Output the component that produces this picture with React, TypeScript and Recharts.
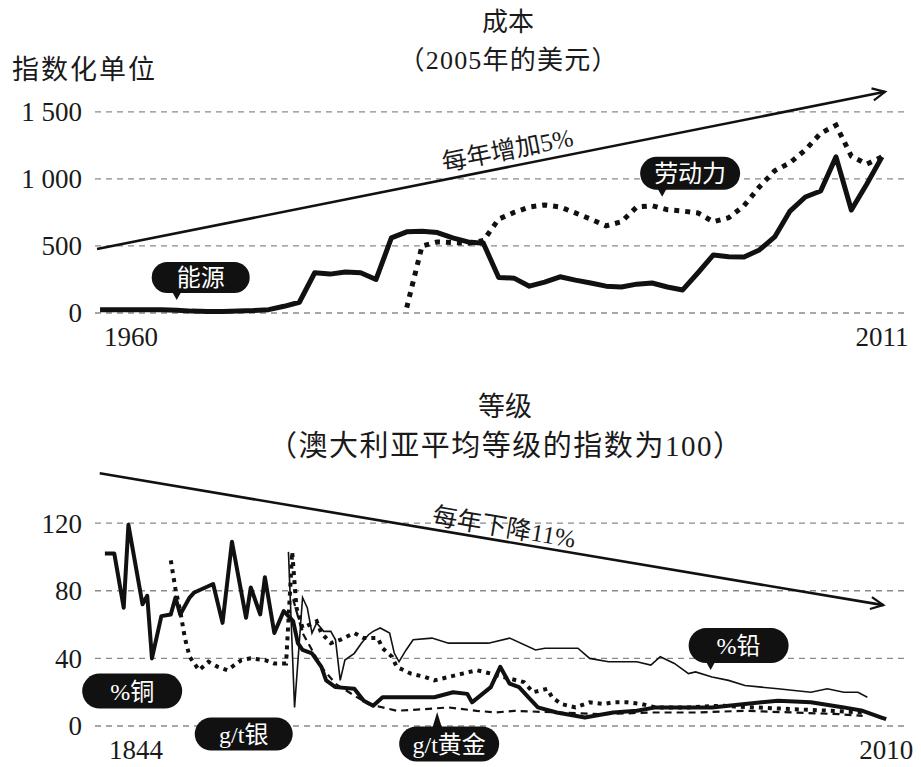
import React from 'react';
import { LineChart, Line, XAxis, YAxis, CartesianGrid, ReferenceLine, ReferenceDot } from 'recharts';

const FONT = "'Liberation Serif', 'Noto Sans CJK SC', serif";
const INK = '#1a1a1a';

// ---------- Top chart: cost (2005 US$), indexed units ----------
const costYears = [
  1960, 1961, 1962, 1963, 1964, 1965, 1966, 1967, 1968, 1969,
  1970, 1971, 1972, 1973, 1974, 1975, 1976, 1977, 1978, 1979,
  1980, 1981, 1982, 1983, 1984, 1985, 1986, 1987, 1988, 1989,
  1990, 1991, 1992, 1993, 1994, 1995, 1996, 1997, 1998, 1999,
  2000, 2001, 2002, 2003, 2004, 2005, 2006, 2007, 2008, 2009,
  2010, 2011,
];
const energyCost = [
  25, 25, 25, 25, 25, 20, 14, 12, 12, 14,
  18, 25, 50, 80, 300, 290, 305, 300, 250, 560,
  605, 610, 600, 560, 530, 520, 265, 260, 200, 230,
  270, 245, 224, 200, 194, 215, 224, 194, 172, 300,
  433, 420, 418, 470, 567, 760, 865, 910, 1164, 768,
  960, 1164,
];
const laborCost = [
  null, null, null, null, null, null, null, null, null, null,
  null, null, null, null, null, null, null, null, null, null,
  40, 500, 530, 525, 520, 540, 700, 750, 790, 806,
  791, 746, 700, 650, 680, 790, 800, 770, 760, 746,
  680, 710, 800, 940, 1060, 1120, 1216, 1340, 1400, 1170,
  1110, 1164,
];
const costTicksY = [0, 500, 1000, 1500];
const costTicksX = [1960, 2011];
const costTrend = [{ x: 1959.8, y: 477 }, { x: 2011.2, y: 1649 }];
const costTrendLabel = '每年增加5%';
const costTitle = '成本';
const costSubtitle = '（2005年的美元）';
const costUnit = '指数化单位';
const costNotes = [
  { text: '能源', x: 1965, y: 97, dx: 24, dy: -22.5, w: 98, h: 31, pointer: 'down' },
  { text: '劳动力', x: 1996.66, y: 866, dx: 28, dy: -23.5, w: 100, h: 33, pointer: 'down' },
];

// ---------- Bottom chart: ore grades (Australian average grade index = 100) ----------
const copperYears = [
  1844, 1846, 1848, 1849, 1852, 1853, 1854, 1856, 1858, 1859,
  1860, 1862, 1863, 1867, 1869, 1871, 1874, 1875, 1877, 1878,
  1880, 1882, 1884, 1885, 1886, 1888, 1890, 1891, 1893, 1897,
  1899, 1901, 1903, 1908, 1914, 1918, 1921, 1922, 1926, 1928,
  1930, 1932, 1934, 1936, 1940, 1946, 1952, 1957, 1961, 1968,
  1973, 1980, 1987, 1994, 2001, 2005, 2009, 2010,
];
const copperGrade = [
  102, 102, 70, 119, 72, 77, 40, 65, 66, 76,
  66, 76, 79, 84, 61, 109, 64, 82, 66, 88,
  55, 68, 62, 49, 45, 43, 35, 27, 23, 22,
  15, 12, 17, 17, 17, 20, 19, 14, 23, 35,
  25, 23, 17, 11, 8, 5, 8, 9, 11, 11,
  11, 13, 15, 14, 11, 9, 5, 4,
];
const silverYears = [
  1858, 1859, 1860, 1861, 1862, 1864, 1866, 1868, 1870, 1873,
  1875, 1878, 1880, 1882.5, 1883.8, 1884.7, 1886, 1889, 1890, 1892,
  1894, 1897, 1899, 1902, 1903, 1905, 1906, 1909, 1912, 1914,
  1917, 1920, 1923, 1926, 1930, 1933, 1935, 1938, 1939, 1941,
  1944, 1947, 1950, 1952, 1955, 1958, 1961, 1968, 1975, 1982,
  1990, 1998, 2005,
];
const silverGrade = [
  98, 81, 68, 52, 41, 33, 38, 35, 33, 39,
  40, 39, 37, 37, 103, 70, 58, 62, 55, 49,
  51, 55, 52, 52, 46, 41, 35, 31, 29, 27,
  29, 31, 33, 31, 28, 26, 20, 22, 17, 13,
  11, 14, 13, 14, 14, 13, 11, 11, 12, 11,
  10, 9, 8,
];
const leadYears = [
  1883, 1884.3, 1886, 1887, 1888, 1889, 1890.5, 1892, 1893, 1894,
  1895, 1897, 1898.5, 1900, 1901, 1902.5, 1904.5, 1905.5, 1906.5, 1908,
  1909.5, 1913.5, 1917, 1921, 1925.5, 1930, 1935.5, 1937.5, 1944.5, 1947,
  1951, 1957, 1960, 1962, 1965, 1968, 1969.5, 1973, 1976.5, 1980,
  1983.5, 1987, 1990.5, 1994, 1997.5, 2001, 2004, 2006,
];
const leadGrade = [
  103, 11, 76, 70, 55, 61, 56, 56, 51, 27,
  39, 43, 49, 54, 56, 58, 55, 43, 38, 45,
  51, 52, 49, 49, 49, 52, 45, 46, 46, 40,
  38, 38, 36, 41, 37, 31, 32, 29, 27, 24,
  23, 22, 21, 20, 22, 20, 20, 17,
];
const goldYears = [
  1884, 1886, 1888, 1890, 1893, 1897, 1900, 1906, 1912, 1917,
  1923, 1927, 1931, 1940, 1950, 1960, 1970, 1980, 1990, 2000, 2005,
];
const goldGrade = [
  75, 55, 45, 35, 25, 18, 13, 9, 10, 11,
  9, 8, 9, 8, 7, 8, 8, 9, 8, 7, 6,
];
const gradeTicksY = [0, 40, 80, 120];
const gradeTicksX = [1844, 2010];
const gradeTrend = [{ x: 1842.9, y: 149.5 }, { x: 2009.4, y: 71.5 }];
const gradeTrendLabel = '每年下降11%';
const gradeTitle = '等级';
const gradeSubtitle = '（澳大利亚平均等级的指数为100）';
const gradeNotes = [
  { text: '%铜', x: 1849.8, y: 20.7, dx: 0, dy: 0, w: 100, h: 35, pointer: 'none' },
  { text: 'g/t银', x: 1873.5, y: 0, dx: 0, dy: 8, w: 98, h: 33, pointer: 'none' },
  { text: 'g/t黄金', x: 1914.6, y: 8.3, dx: 12, dy: 32, w: 100, h: 35, pointer: 'up' },
  { text: '%铅', x: 1972.7, y: 33.1, dx: 28, dy: -24.5, w: 100, h: 35, pointer: 'down' },
];

const costData = costYears.map((year, i) => ({ year, energy: energyCost[i], labor: laborCost[i] }));
const toSeries = (xs: number[], vs: number[]) => xs.map((year, i) => ({ year, v: vs[i] }));
const copperData = toSeries(copperYears, copperGrade);
const silverData = toSeries(silverYears, silverGrade);
const leadData = toSeries(leadYears, leadGrade);
const goldData = toSeries(goldYears, goldGrade);

const fmtThousands = (v: number) =>
  v >= 1000 ? `${Math.floor(v / 1000)} ${String(v % 1000).padStart(3, '0')}` : String(v);

const XTick = (props: any) => {
  const { x, y, payload, index } = props;
  const first = index === 0;
  return (
    <text x={first ? x + 4 : x} y={y} dy={33} textAnchor={first ? 'start' : 'middle'}
      fontSize={27} fontFamily={FONT} fill={INK}>
      {payload.value}
    </text>
  );
};

const YTick = (props: any) => {
  const { x, y, payload } = props;
  return (
    <text x={x} y={y} dy="0.35em" textAnchor="end" fontSize={27} fontFamily={FONT} fill={INK}>
      {fmtThousands(payload.value)}
    </text>
  );
};

const trendShape = (label: string, t: number, off: number) => (props: any) => {
  const { x1, y1, x2, y2 } = props;
  const a = Math.atan2(y2 - y1, x2 - x1);
  const mx = x1 + t * (x2 - x1);
  const my = y1 + t * (y2 - y1);
  const lx = mx + off * Math.sin(a);
  const ly = my - off * Math.cos(a);
  const L = 14;
  const h1x = x2 - L * Math.cos(a - 0.45);
  const h1y = y2 - L * Math.sin(a - 0.45);
  const h2x = x2 - L * Math.cos(a + 0.45);
  const h2y = y2 - L * Math.sin(a + 0.45);
  return (
    <g>
      <line x1={x1} y1={y1} x2={x2} y2={y2} stroke="#111" strokeWidth={2.6} />
      <polyline points={`${h1x},${h1y} ${x2},${y2} ${h2x},${h2y}`} fill="none" stroke="#111" strokeWidth={2.2} />
      <text x={lx} y={ly} dy="0.35em" textAnchor="middle" fontSize={25} fontFamily={FONT} fill={INK}
        transform={`rotate(${(a * 180) / Math.PI} ${lx} ${ly})`}>
        {label}
      </text>
    </g>
  );
};

const bubbleShape = (n: any) => (props: any) => {
  const { cx, cy } = props;
  const bx = cx + n.dx;
  const by = cy + n.dy;
  const top = by - n.h / 2;
  const bottom = by + n.h / 2;
  return (
    <g>
      {n.pointer === 'down' && (
        <path d={`M${cx - 5},${bottom - 2} L${cx},${cy} L${cx + 5},${bottom - 2} Z`} fill="#111" />
      )}
      {n.pointer === 'up' && (
        <path d={`M${cx - 5},${top + 2} L${cx},${cy} L${cx + 5},${top + 2} Z`} fill="#111" />
      )}
      <rect x={bx - n.w / 2} y={top} width={n.w} height={n.h} rx={n.h / 2} fill="#111" />
      <text x={bx} y={by} dy="0.36em" textAnchor="middle" fontSize={24} fontFamily={FONT} fill="#fff">
        {n.text}
      </text>
    </g>
  );
};

const gridProps = { vertical: false, stroke: '#8a8a8a', strokeWidth: 1.3, strokeDasharray: '6 5' };

export default function App() {
  return (
    <div style={{ position: 'absolute', left: 0, top: 0, width: 921, height: 767, background: '#fff' }}>
      <div style={{ position: 'absolute', left: 0, top: 0 }}>
        <LineChart width={921} height={360} data={costData} margin={{ top: 85, right: 16, bottom: 17, left: 0 }}>
          <CartesianGrid {...gridProps} horizontalValues={costTicksY} />
          <XAxis dataKey="year" type="number" domain={[1959.67, 2012.5]} ticks={costTicksX}
            axisLine={false} tickLine={false} tickSize={0} tickMargin={0} height={30} tick={<XTick />} />
          <YAxis type="number" domain={[0, 1700]} ticks={costTicksY} width={95}
            axisLine={false} tickLine={false} tickSize={0} tickMargin={13} tick={<YTick />} />
          <ReferenceLine segment={costTrend} ifOverflow="visible" shape={trendShape(costTrendLabel, 0.525, 17)} />
          <Line dataKey="labor" type="linear" stroke="#111" strokeWidth={5} strokeDasharray="5 6"
            dot={false} activeDot={false} isAnimationActive={false} />
          <Line dataKey="energy" type="linear" stroke="#111" strokeWidth={5} strokeLinejoin="round"
            dot={false} activeDot={false} isAnimationActive={false} />
          {costNotes.map((n) => (
            <ReferenceDot key={n.text} x={n.x} y={n.y} r={0} ifOverflow="visible" shape={bubbleShape(n)} />
          ))}
        </LineChart>
      </div>
      <div style={{ position: 'absolute', left: 0, top: 370 }}>
        <LineChart width={921} height={397} margin={{ top: 94, right: 16, bottom: 11, left: 0 }}>
          <CartesianGrid {...gridProps} horizontalValues={gradeTicksY} />
          <XAxis dataKey="year" type="number" domain={[1841.9, 2014]} ticks={gradeTicksX} allowDataOverflow
            axisLine={false} tickLine={false} tickSize={0} tickMargin={0} height={30} tick={<XTick />} />
          <YAxis type="number" domain={[0, 155]} ticks={gradeTicksY} width={95} allowDataOverflow
            axisLine={false} tickLine={false} tickSize={0} tickMargin={13} tick={<YTick />} />
          <ReferenceLine segment={gradeTrend} ifOverflow="visible" shape={trendShape(gradeTrendLabel, 0.513, 14)} />
          <Line data={leadData} dataKey="v" type="linear" stroke="#111" strokeWidth={1.6}
            dot={false} activeDot={false} isAnimationActive={false} />
          <Line data={goldData} dataKey="v" type="linear" stroke="#111" strokeWidth={2.2} strokeDasharray="7 5"
            dot={false} activeDot={false} isAnimationActive={false} />
          <Line data={silverData} dataKey="v" type="linear" stroke="#111" strokeWidth={4} strokeDasharray="4 5"
            dot={false} activeDot={false} isAnimationActive={false} />
          <Line data={copperData} dataKey="v" type="linear" stroke="#111" strokeWidth={4} strokeLinejoin="round"
            dot={false} activeDot={false} isAnimationActive={false} />
          {gradeNotes.map((n) => (
            <ReferenceDot key={n.text} x={n.x} y={n.y} r={0} ifOverflow="visible" shape={bubbleShape(n)} />
          ))}
        </LineChart>
      </div>
      <svg width={921} height={767} style={{ position: 'absolute', left: 0, top: 0, pointerEvents: 'none' }}>
        <g fontFamily={FONT} fill={INK}>
          <text x={508} y={22} dy="0.35em" textAnchor="middle" fontSize={26}>{costTitle}</text>
          <text x={508} y={60} dy="0.35em" textAnchor="middle" fontSize={26}
            textLength={219} lengthAdjust="spacing">{costSubtitle}</text>
          <text x={12} y={70} dy="0.35em" textAnchor="start" fontSize={27}
            textLength={143} lengthAdjust="spacing">{costUnit}</text>
          <text x={505} y={407} dy="0.35em" textAnchor="middle" fontSize={27}>{gradeTitle}</text>
          <text x={505} y={446} dy="0.35em" textAnchor="middle" fontSize={29}
            textLength={474} lengthAdjust="spacing">{gradeSubtitle}</text>
        </g>
      </svg>
    </div>
  );
}
